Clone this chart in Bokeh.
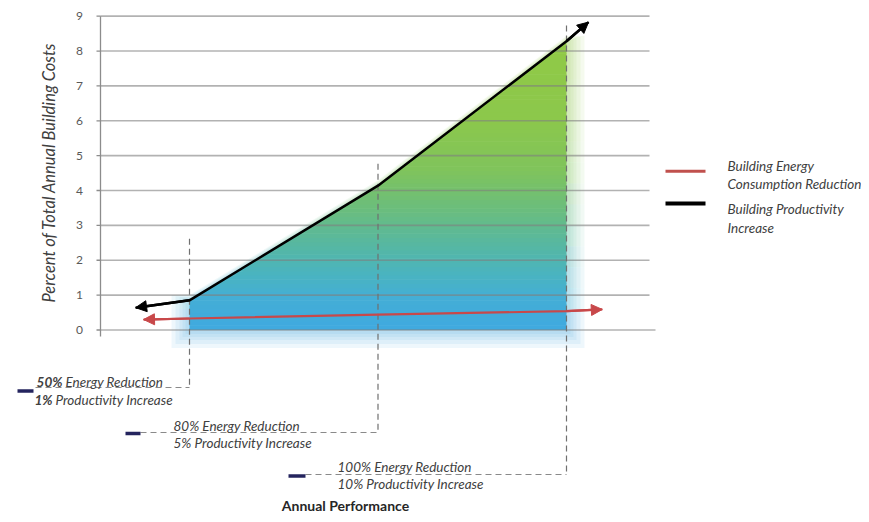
import numpy as np
from bokeh.plotting import figure
from bokeh.models import Arrow, NormalHead, Range1d
from bokeh.core.properties import value
from bokeh.embed import file_html
from bokeh.resources import INLINE

# ---------------- data ----------------
levels = [1, 2, 3]                              # the three scenarios on the performance axis
scenario_energy = ["50%", "80%", "100%"]
scenario_productivity = ["1%", "5%", "10%"]
productivity_x = [0.714, 1, 2, 3, 3.117]        # Building Productivity Increase (arrow tail .. head)
productivity_y = [0.64, 0.85, 4.14, 8.28, 8.83]
energy_x = [0.756, 1, 2, 3, 3.19]               # Building Energy Consumption Reduction
energy_y = [0.30, 0.33, 0.44, 0.54, 0.59]
y_ticks = [0, 1, 2, 3, 4, 5, 6, 7, 8, 9]
y_title = "Percent of Total Annual Building Costs"
x_title = "Annual Performance"
legend_labels = [["Building Energy", "Consumption Reduction"], ["Building Productivity", "Increase"]]
leader_top = [2.62, 4.77, 8.73]

# ---------------- layout helpers (pixel -> data) ----------------
W, H = 861, 514

def dx(X):
    return 1 + (X - 189) / 188.5

def dy(Y):
    return (329.5 - Y) / 34.87

FONT = value("Lato")

p = figure(width=W, height=H,
           x_range=Range1d(dx(0), dx(W)), y_range=Range1d(dy(H), dy(0)),
           output_backend="svg", toolbar_location=None, min_border=0,
           x_axis_location=None, y_axis_location=None)
p.grid.visible = False
p.outline_line_color = None
p.background_fill_color = "white"

# ---------------- gradient fill ----------------
stop_y = [0, 0.9, 1.6, 2.5, 3.5, 4.6, 6.0, 9.5]
stop_r = [64, 68, 74, 88, 108, 128, 140, 148]
stop_g = [170, 174, 180, 184, 190, 196, 200, 203]
stop_b = [224, 214, 192, 160, 124, 92, 76, 68]

def col(yv):
    yv = max(yv, 0)
    r = int(np.interp(yv, stop_y, stop_r))
    g = int(np.interp(yv, stop_y, stop_g))
    b = int(np.interp(yv, stop_y, stop_b))
    return "#%02x%02x%02x" % (r, g, b)

def densify(xk, yk, edges):
    xs = list(xk)
    for i in range(len(xk) - 1):
        x0, x1, y0, y1 = xk[i], xk[i + 1], yk[i], yk[i + 1]
        for L in edges:
            if (L - y0) * (L - y1) < 0:
                xs.append(x0 + (L - y0) / (y1 - y0) * (x1 - x0))
    xs = np.unique(np.array(xs))
    return xs, np.interp(xs, xk, yk)

def bands(xk, yk, bottom, alpha, step, overlap):
    edges = list(np.arange(0, 9.8, step))
    if bottom < 0:
        edges = [bottom] + edges
    xs, top = densify(xk, yk, edges)
    pxs, pys, cs = [], [], []
    for lo, hi in zip(edges[:-1], edges[1:]):
        up = np.clip(top, lo, hi + overlap)
        if np.all(up <= lo):
            continue
        pxs.append(list(xs) + list(xs[::-1]))
        pys.append(list(up) + [lo] * len(xs))
        cs.append(col((lo + hi) / 2))
    p.patches(xs=pxs, ys=pys, fill_color=cs, fill_alpha=alpha, line_color=None)

fill_top = productivity_y[1:4]
for e_px in [18, 14, 10, 7, 4]:
    ex, ey = e_px / 188.5, e_px / 34.87
    xk = [levels[0] - ex] + levels + [levels[-1] + ex]
    yk = [fill_top[0] + 0.3 * ey] + [v + 0.3 * ey for v in fill_top] + [fill_top[-1] + 0.3 * ey]
    bands(xk, yk, -ey, 0.09, 0.6, 0.0)
bands(levels, fill_top, 0, 1.0, 0.12, 0.015)

# ---------------- grid & axis ----------------
p.segment(x0=dx(100), x1=dx(649), y0=y_ticks[1:], y1=y_ticks[1:],
          line_color="#7f7f7f", line_alpha=0.6, line_width=1.6)
p.segment(x0=dx(100), x1=dx(655), y0=y_ticks[0], y1=y_ticks[0],
          line_color="#7f7f7f", line_alpha=0.6, line_width=1.6)
p.segment(x0=dx(100), x1=dx(100), y0=dy(336), y1=y_ticks[-1],
          line_color="#8c8c8c", line_width=1.3)
p.segment(x0=dx(96), x1=dx(100), y0=y_ticks, y1=y_ticks, line_color="#8c8c8c", line_width=1.3)
p.text(x=dx(79), y=y_ticks, text=[str(t) for t in y_ticks], text_font=FONT,
       text_font_size="12px", text_color="#595959", text_align="center", text_baseline="middle")
p.text(x=[dx(48)], y=[dy(172)], text=[y_title], angle=np.pi / 2, text_font=FONT,
       text_font_style="italic", text_font_size="16.5px", text_color="#404040",
       text_align="center", text_baseline="middle")
p.text(x=[dx(345)], y=[dy(505)], text=[x_title], text_font=FONT, text_font_style="bold",
       text_font_size="14px", text_color="#262626", text_align="center", text_baseline="middle")

# ---------------- leaders & callouts ----------------
callout_y = [dy(387), dy(432), dy(474)]
p.segment(x0=levels, x1=levels, y0=leader_top, y1=callout_y,
          line_color="#707070", line_dash="6 4", line_width=1.2)
p.segment(x0=[dx(35), dx(140), dx(305)], x1=levels, y0=callout_y, y1=callout_y,
          line_color="#8a8a8a", line_dash="6 4", line_width=1.2)
p.segment(x0=[dx(17), dx(125), dx(288)], x1=[dx(33), dx(140), dx(305)],
          y0=[dy(390.5), dy(433), dy(475.5)], y1=[dy(390.5), dy(433), dy(475.5)],
          line_color="#24245e", line_width=3.5, line_cap="butt")

lab_x = [dx(40), dx(173), dx(337)]
l1_y = [dy(381.7), dy(425), dy(466)]
l2_y = [dy(399.3), dy(442), dy(483)]
common = dict(text_font=FONT, text_font_size="13.5px", text_color="#404040", text_baseline="middle")
# first scenario: bold figures
p.text(x=[dx(62)], y=[l1_y[0]], text=[scenario_energy[0]], text_font_style="bold italic",
       text_align="right", **common)
p.text(x=[dx(65)], y=[l1_y[0]], text=["Energy Reduction"], text_font_style="italic",
       text_align="left", **common)
p.text(x=[dx(52)], y=[l2_y[0]], text=[scenario_productivity[0]], text_font_style="bold italic",
       text_align="right", **common)
p.text(x=[dx(55)], y=[l2_y[0]], text=["Productivity Increase"], text_font_style="italic",
       text_align="left", **common)
p.text(x=lab_x[1:], y=l1_y[1:], text=[s + " Energy Reduction" for s in scenario_energy[1:]],
       text_font_style="italic", text_align="left", **common)
p.text(x=lab_x[1:], y=l2_y[1:], text=[s + " Productivity Increase" for s in scenario_productivity[1:]],
       text_font_style="italic", text_align="left", **common)

# ---------------- series lines with arrows ----------------
RED = "#c8484a"
p.line(energy_x, energy_y, line_color=RED, line_width=2.2)
p.line(productivity_x, productivity_y, line_color="black", line_width=2.5)
for xs_, ys_, c, w in [(energy_x, energy_y, RED, 2.2), (productivity_x, productivity_y, "black", 2.5)]:
    p.add_layout(Arrow(end=NormalHead(size=11, fill_color=c, line_color=c),
                       x_start=xs_[-2], y_start=ys_[-2], x_end=xs_[-1], y_end=ys_[-1],
                       line_color=c, line_width=w))
    p.add_layout(Arrow(end=NormalHead(size=11, fill_color=c, line_color=c),
                       x_start=xs_[1], y_start=ys_[1], x_end=xs_[0], y_end=ys_[0],
                       line_color=c, line_width=w))

# ---------------- legend ----------------
p.segment(x0=dx(665), x1=dx(705), y0=dy(170.7), y1=dy(170.7), line_color="#c0504d", line_width=3)
p.segment(x0=dx(665), x1=dx(705), y0=dy(203), y1=dy(203), line_color="black", line_width=4)
leg_y = [[dy(165), dy(183)], [dy(208), dy(227)]]
for labs, ys_ in zip(legend_labels, leg_y):
    p.text(x=[dx(727)] * 2, y=ys_, text=labs, text_font=FONT, text_font_style="italic",
           text_font_size="13.5px", text_color="#404040", text_align="left", text_baseline="middle")

open("out.html", "w").write(file_html(p, INLINE))
